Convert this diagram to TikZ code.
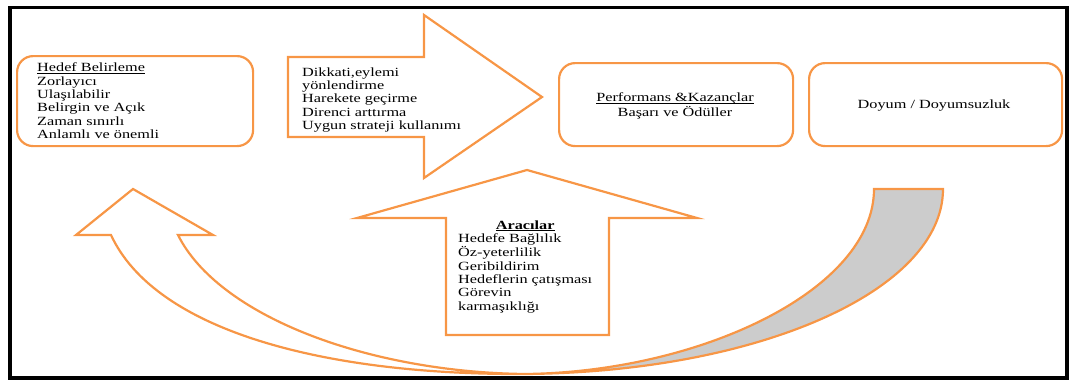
\documentclass[tikz,border=0pt]{standalone}
\usepackage{fontspec}
\setmainfont{Liberation Serif}[FakeStretch=1.3]
\definecolor{accent}{HTML}{F79646}
\definecolor{backband}{HTML}{CCCCCC}
% underline at a fixed distance below the baseline, through descenders
\newcommand{\lineunder}[1]{\setbox0\hbox{#1}\rlap{\rule[-1.6pt]{\wd0}{0.6pt}}\box0}
\begin{document}
\begin{tikzpicture}[x=1pt,y=-1pt,
  outline/.style={draw=accent,line width=2.2pt},
  roundbox/.style={outline,rounded corners=16pt,anchor=north west,inner sep=0pt,
    font=\fontsize{12.5}{13.4}\selectfont},
  txt/.style={inner sep=0pt,font=\fontsize{12.5}{13.4}\selectfont},
]
\useasboundingbox (0,0) rectangle (1069,380);

% outer frame
\draw[line width=3.5pt] (10,7.5) rectangle (1067,378);

% feedback ribbon: shaded back part on the right
\draw[outline,fill=backband] (874,189) -- (943,189)
  .. controls (943,290) and (760,372) .. (525,374)
  .. controls (700,372) and (874,290) .. (874,189) -- cycle;
% front part bending up into the left arrow head
\draw[outline,fill=white] (133,189) -- (213,235) -- (178,235)
  .. controls (218,315) and (365,372) .. (525,374)
  .. controls (322,375) and (155,330) .. (111,235)
  -- (76,235) -- cycle;

% goal setting box
\node[roundbox,minimum width=236pt,minimum height=90pt] (hedef) at (16,55) {};
\node[txt,anchor=north west] (hedeftxt) at (37,62.2) {\begin{tabular}{@{}l@{}}
  \lineunder{Hedef Belirleme}\\ Zorlayıcı\\ Ulaşılabilir\\ Belirgin ve Açık\\
  Zaman sınırlı\\ Anlamlı ve önemli\end{tabular}};

% mechanisms arrow
\draw[outline] (288,57) -- (424,57) -- (424,15) -- (542,97) -- (424,178)
  -- (424,137) -- (288,137) -- cycle;
\node[txt,anchor=north west] (mechtxt) at (302,66.6) {\begin{tabular}{@{}l@{}}
  Dikkati,eylemi\\ yönlendirme\\ Harekete geçirme\\ Direnci arttırma\\
  Uygun strateji kullanımı\end{tabular}};

% moderators arrow
\draw[outline] (446,335) -- (446,218) -- (357,218) -- (527,170) -- (697,218)
  -- (609,218) -- (609,335) -- cycle;
\node[txt,anchor=north west] (modtxt) at (458,219.5) {\begin{tabular}{@{}l@{}}
  \multicolumn{1}{@{}c@{}}{\lineunder{\textbf{Aracılar}}}\\ Hedefe Bağlılık\\
  Öz-yeterlilik\\ Geribildirim\\ Hedeflerin çatışması\\ Görevin\\
  karmaşıklığı\end{tabular}};

% performance and satisfaction boxes
\node[roundbox,minimum width=234pt,minimum height=83pt] (perf) at (558,62) {};
\node[txt,anchor=north] (perftxt) at (675,92.3) {\begin{tabular}{@{}c@{}}
  \lineunder{Performans \&Kazançlar}\\ Başarı ve Ödüller\end{tabular}};
\node[roundbox,minimum width=253pt,minimum height=83pt] (doyum) at (808,62) {};
\node[txt,anchor=base] (doyumtxt) at (934,108.3) {Doyum / Doyumsuzluk};
\end{tikzpicture}
\end{document}
